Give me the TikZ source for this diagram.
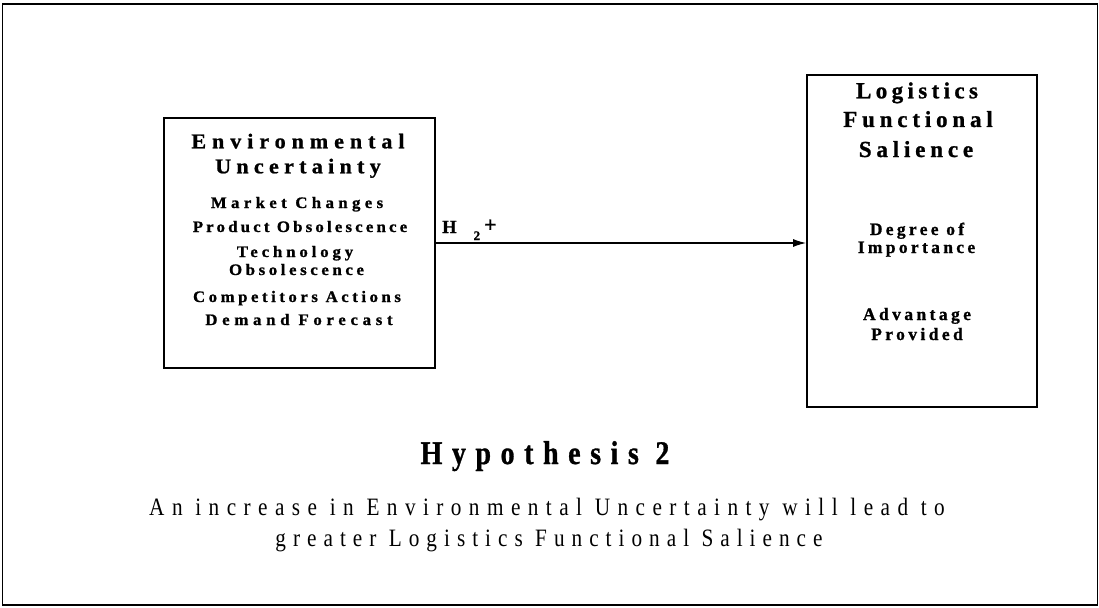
\documentclass[tikz,border=0pt]{standalone}
\usepackage{fontspec}
\setmainfont{Liberation Serif}[BoldFeatures={FakeBold=1}]
\usetikzlibrary{arrows.meta}
% horizontally scaled text
\newcommand{\wide}[2]{\scalebox{#1}[1]{#2}}
\begin{document}
\begin{tikzpicture}[x=1pt,y=-1pt,
  frame/.style={draw, line width=1.6pt},
  boxline/.style={draw, line width=1.8pt, inner sep=0pt},
  txt/.style={inner sep=0pt, anchor=base},
  ttl/.style={txt, font=\fontsize{21}{24}\selectfont\bfseries\addfontfeatures{LetterSpace=#1}},
  itm/.style={txt, font=\fontsize{16}{18}\selectfont\bfseries\addfontfeatures{LetterSpace=#1}},
  rttl/.style={txt, font=\fontsize{23}{26}\selectfont\bfseries\addfontfeatures{LetterSpace=#1}},
  ritm/.style={txt, font=\fontsize{17.5}{20}\selectfont\bfseries\addfontfeatures{LetterSpace=#1}},
  capt/.style={txt, font=\fontsize{25}{31}\selectfont\addfontfeatures{LetterSpace=#1}},
  conn/.style={line width=1.2pt, -{Latex[length=13pt,width=8pt]}}
]
\useasboundingbox (0,0) rectangle (1099,607);
% outer frame
\draw[frame] (2.5,4) rectangle (1097.5,605);

% Environmental Uncertainty construct
\node[boxline, minimum width=271pt, minimum height=250pt] (env) at (299.5,243) {};
\node[ttl=27] (e1) at (298,148.3) {\wide{1.05}{Environmental}};
\node[ttl=24] (e2) at (298,173.3) {\wide{1.05}{Uncertainty}};
\node[itm=26] (e3) at (297,208) {\wide{1.05}{Market Changes}};
\node[itm=19] (e4) at (300,232) {\wide{1.05}{Product Obsolescence}};
\node[itm=23] (e5) at (295,257) {\wide{1.05}{Technology}};
\node[itm=21.5] (e6) at (296.5,275) {\wide{1.05}{Obsolescence}};
\node[itm=21] (e7) at (297,302) {\wide{1.05}{Competitors Actions}};
\node[itm=28] (e8) at (299,325) {\wide{1.05}{Demand Forecast}};

% Logistics Functional Salience construct
\node[boxline, minimum width=230pt, minimum height=332pt] (lfs) at (922,241) {};
\node[rttl=19] (l1) at (917,98.3) {Logistics};
\node[rttl=21] (l2) at (918,127) {Functional};
\node[rttl=21] (l3) at (916,157) {Salience};
\node[ritm=19] (l4) at (917,235) {Degree of};
\node[ritm=19] (l5) at (916.5,253) {Importance};
\node[ritm=19.5] (l6) at (917,320) {Advantage};
\node[ritm=19.5] (l7) at (917,340) {Provided};

% hypothesised link H2+
\draw[conn] (env.east) -- (env.east -| lfs.west);
\node[inner sep=0pt, anchor=base west, font=\fontsize{18.5}{20}\selectfont\bfseries] (h2) at (442,233)
  {H\hspace{17pt}\raisebox{-7pt}{\fontsize{13}{14}\selectfont 2}\hspace{4pt}{\fontsize{22}{22}\selectfont\raisebox{1pt}{+}}};

% caption
\node[txt, font=\fontsize{33}{38}\selectfont\bfseries\addfontfeatures{LetterSpace=34}] (hyp) at (545,464) {\wide{0.85}{Hypothesis 2}};
\node[capt=35] (stmt1) at (547,515) {\wide{0.85}{An increase in Environmental Uncertainty will lead to}};
\node[capt=33] (stmt2) at (549,546) {\wide{0.85}{greater Logistics Functional Salience}};
\end{tikzpicture}
\end{document}
